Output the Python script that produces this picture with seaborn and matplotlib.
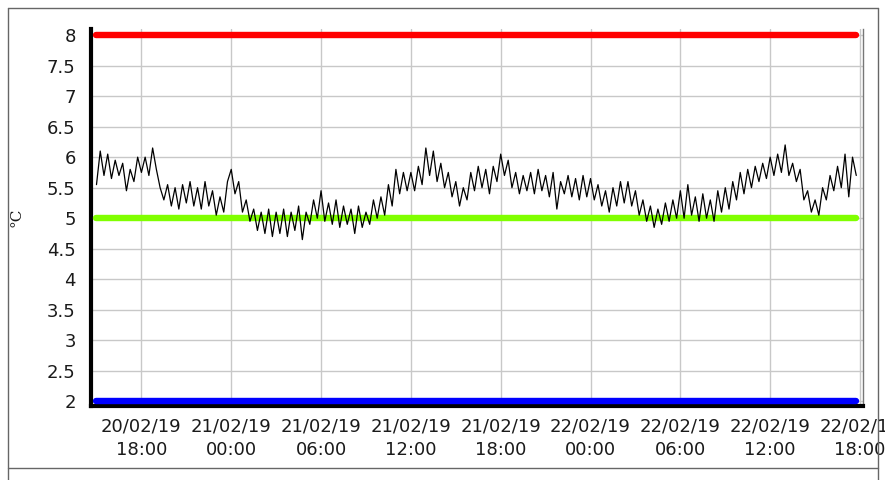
import pandas as pd
import seaborn as sns
import matplotlib.pyplot as plt
import matplotlib.dates as mdates
from matplotlib.ticker import MultipleLocator
from matplotlib.lines import Line2D

# Logger readings, one every 15 minutes (degC)
start_time = "2019-02-20 15:00"
step = "15min"

temp_20_1500 = [5.55, 6.1, 5.7, 6.05, 5.65, 5.95, 5.7, 5.9, 5.45, 5.8, 5.6, 6.0]
temp_20_1800 = [5.75, 6.0, 5.7, 6.15, 5.8, 5.5, 5.3, 5.55, 5.2, 5.5, 5.15, 5.55,
                5.25, 5.6, 5.2, 5.5, 5.15, 5.6, 5.2, 5.45, 5.05, 5.35, 5.1, 5.6]
temp_21_0000 = [5.8, 5.4, 5.6, 5.1, 5.3, 4.95, 5.15, 4.8, 5.1, 4.75, 5.15, 4.7,
                5.1, 4.75, 5.15, 4.7, 5.1, 4.8, 5.2, 4.65, 5.1, 4.9, 5.3, 5.0]
temp_21_0600 = [5.45, 4.95, 5.25, 4.9, 5.3, 4.85, 5.2, 4.9, 5.15, 4.75, 5.2, 4.85,
                5.1, 4.9, 5.3, 5.0, 5.35, 5.05, 5.55, 5.2, 5.8, 5.4, 5.75, 5.45]
temp_21_1200 = [5.75, 5.45, 5.85, 5.55, 6.15, 5.7, 6.1, 5.6, 5.9, 5.5, 5.75, 5.35,
                5.6, 5.2, 5.5, 5.3, 5.75, 5.45, 5.85, 5.5, 5.8, 5.4, 5.85, 5.6]
temp_21_1800 = [6.05, 5.7, 5.95, 5.5, 5.75, 5.4, 5.7, 5.45, 5.75, 5.4, 5.8, 5.45,
                5.7, 5.35, 5.75, 5.15, 5.6, 5.4, 5.7, 5.35, 5.65, 5.3, 5.7, 5.35]
temp_22_0000 = [5.65, 5.3, 5.55, 5.2, 5.45, 5.1, 5.5, 5.2, 5.6, 5.25, 5.6, 5.2,
                5.45, 5.05, 5.3, 4.95, 5.2, 4.85, 5.15, 4.9, 5.25, 4.95, 5.3, 5.0]
temp_22_0600 = [5.45, 5.0, 5.55, 5.05, 5.35, 4.95, 5.4, 5.0, 5.3, 4.95, 5.45, 5.1,
                5.5, 5.15, 5.6, 5.3, 5.75, 5.4, 5.8, 5.5, 5.85, 5.6, 5.9, 5.65]
temp_22_1200 = [6.0, 5.7, 6.05, 5.75, 6.2, 5.7, 5.9, 5.6, 5.8, 5.3, 5.45, 5.1,
                5.3, 5.05, 5.5, 5.3, 5.7, 5.45, 5.85, 5.5, 6.05, 5.35, 6.0, 5.7]

limit_values = [8, 5, 2]
limit_colors = ["#ff0000", "#80ff00", "#0000ff"]

temps = (temp_20_1500 + temp_20_1800 + temp_21_0000 + temp_21_0600 + temp_21_1200
         + temp_21_1800 + temp_22_0000 + temp_22_0600 + temp_22_1200)
df = pd.DataFrame({
    "time": pd.date_range(start_time, periods=len(temps), freq=step),
    "temp": temps,
})

sns.set_style("white")
plt.rcParams["font.family"] = ["DejaVu Sans"]

fig = plt.figure(figsize=(8.85, 4.8), dpi=100)
ax = fig.add_axes([91 / 885, 1 - 406 / 480, 771.5 / 885, 377 / 480])

# alarm / target lines over the logged period
t0, t1 = df["time"].iloc[0], df["time"].iloc[-1]
for val, col in zip(limit_values, limit_colors):
    ax.plot([t0, t1], [val, val], color=col, lw=4.6, solid_capstyle="round", zorder=3)

sns.lineplot(data=df, x="time", y="temp", ax=ax, color="black", lw=0.9, zorder=4)

ax.set_xlim(pd.Timestamp("2019-02-20 14:38"), pd.Timestamp("2019-02-22 18:10"))
ax.set_ylim(1.926, 8.098)

ax.xaxis.set_major_locator(MultipleLocator(0.25))
ax.xaxis.set_minor_locator(MultipleLocator(1 / 16))
ax.xaxis.set_major_formatter(mdates.DateFormatter("%d/%m/%y\n%H:%M"))
ax.yaxis.set_major_locator(MultipleLocator(0.5))
ax.yaxis.set_minor_locator(MultipleLocator(0.05))
ax.yaxis.set_major_formatter(plt.FuncFormatter(lambda v, p: f"{v:g}"))

ax.grid(True, which="major", color="#c8c8c8", lw=1)
ax.set_axisbelow(True)

ax.tick_params(axis="both", which="major", direction="out", length=6, width=1,
               color="black", labelsize=13, labelcolor="#1a1a1a")
ax.tick_params(axis="x", which="major", pad=2)
ax.tick_params(axis="y", which="major", pad=5)
ax.tick_params(axis="x", which="minor", direction="out", length=3.5, width=1, color="black")
ax.tick_params(axis="y", which="minor", direction="out", length=2.5, width=0.8, color="black")
for lbl in ax.get_xticklabels():
    lbl.set_ha("center")
    lbl.set_multialignment("center")
    lbl.set_linespacing(1.4)

ax.spines["left"].set_linewidth(3)
ax.spines["bottom"].set_linewidth(3)
ax.spines["left"].set_color("black")
ax.spines["bottom"].set_color("black")
ax.spines["right"].set_color("#777777")
ax.spines["right"].set_linewidth(1)
ax.spines["top"].set_visible(False)

ax.set_xlabel("")
ax.set_ylabel("°C", fontsize=11, family="DejaVu Serif", color="#1a1a1a")
ax.yaxis.set_label_coords(-0.087, 0.5)

# outer frame of the panel
frame_kw = dict(color="#666666", lw=1, transform=fig.transFigure)
fig.add_artist(Line2D([7.5 / 885, 7.5 / 885], [0, 1 - 8 / 480], **frame_kw))
fig.add_artist(Line2D([7.5 / 885, 878 / 885], [1 - 8 / 480, 1 - 8 / 480], **frame_kw))
fig.add_artist(Line2D([878 / 885, 878 / 885], [0, 1 - 8 / 480], **frame_kw))
fig.add_artist(Line2D([7.5 / 885, 878 / 885], [1 - 468 / 480, 1 - 468 / 480], **frame_kw))

fig.savefig("out.png", dpi=100)
